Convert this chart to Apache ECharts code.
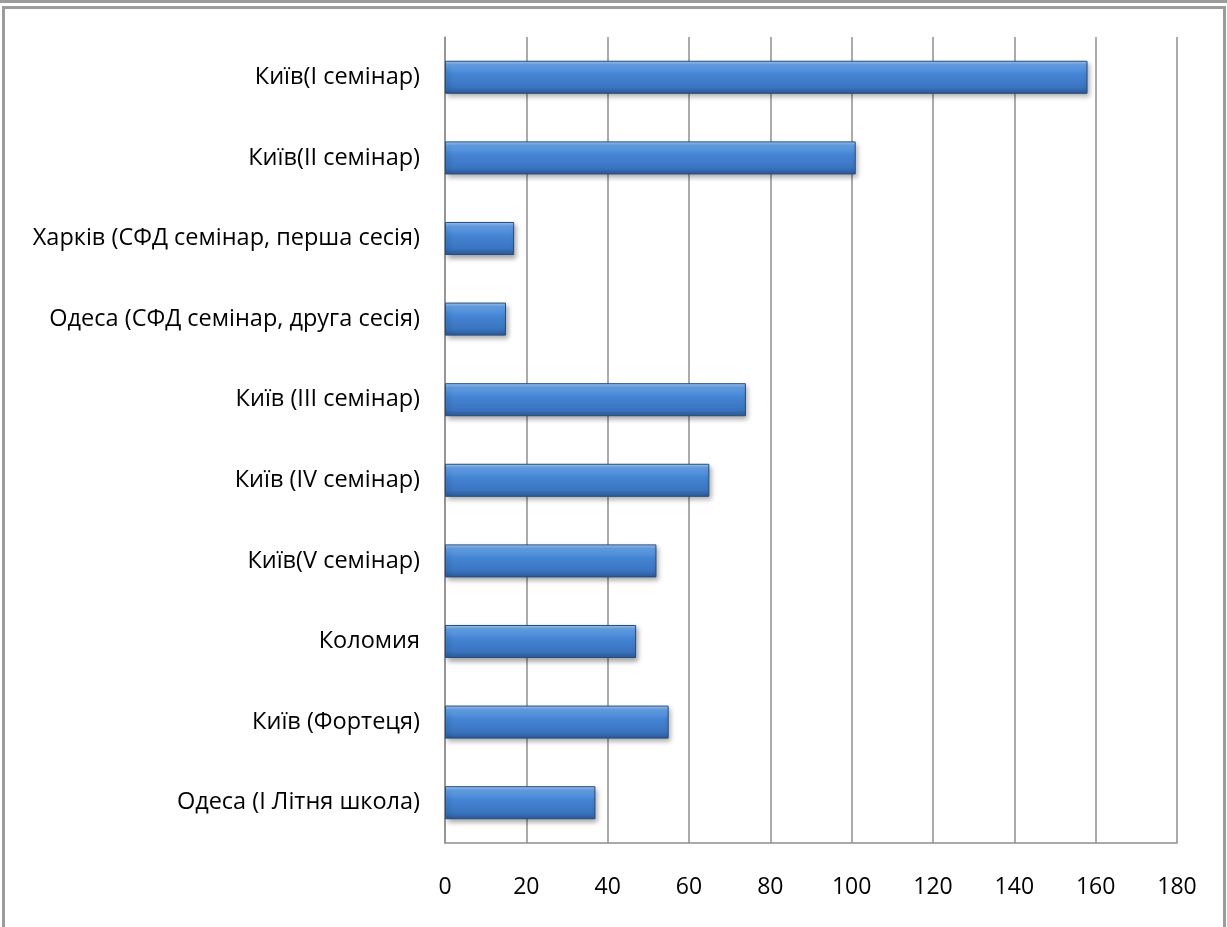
<!DOCTYPE html>
<html>
<head>
<meta charset="utf-8">
<script src="https://cdn.jsdelivr.net/npm/echarts@6/dist/echarts.min.js"></script>
<style>
    html, body { margin: 0; padding: 0; background: #fff; overflow: hidden; }
    #topLine { position: absolute; left: 0; top: 0; width: 1227px; height: 3px; background: #9c9c9c; }
    #frame { position: absolute; left: 2px; top: 6px; width: 1218px; height: 940px;
             border: 3px solid #9c9c9c; }
    #main { position: absolute; left: 0; top: 0; width: 1227px; height: 927px; }
</style>
</head>
<body>
<div id="topLine"></div>
<div id="frame"></div>
<div id="main"></div>
<script>
// категорії зверху вниз
let places = [
    'Київ(I семінар)',
    'Київ(II семінар)',
    'Харків (СФД семінар, перша сесія)',
    'Одеса (СФД семінар, друга сесія)',
    'Київ (III семінар)',
    'Київ (IV семінар)',
    'Київ(V семінар)',
    'Коломия',
    'Київ (Фортеця)',
    'Одеса (I Літня школа)'
];
let counts = [158, 101, 17, 15, 74, 65, 52, 47, 55, 37];
let xTicks = [0, 20, 40, 60, 80, 100, 120, 140, 160, 180];

var chart = echarts.init(document.getElementById('main'));

const fontFam = '"Open Sans", sans-serif';
const gridColor = '#8f8f8f';

option = {
    animation: false,
    grid: {
        left: 445,
        right: 50,
        top: 37,
        bottom: 84
    },
    xAxis: {
        type: 'value',
        min: xTicks[0],
        max: xTicks[xTicks.length - 1],
        interval: 20,
        axisLine: { show: true, lineStyle: { color: gridColor, width: 1.5 } },
        axisTick: { show: false },
        axisLabel: { color: '#000', fontSize: 23, fontFamily: fontFam, margin: 33 },
        splitLine: { show: true, lineStyle: { color: gridColor, width: 1.5 } }
    },
    yAxis: {
        type: 'category',
        data: places,
        inverse: true,
        axisLine: { show: true, lineStyle: { color: gridColor, width: 1.5 } },
        axisTick: { show: false },
        axisLabel: { color: '#000', fontSize: 23.5, fontFamily: fontFam, margin: 25 }
    },
    series: [
        {
            type: 'bar',
            data: counts,
            barCategoryGap: '59%',
            itemStyle: {
                color: new echarts.graphic.LinearGradient(0, 0, 0, 1, [
                    { offset: 0, color: '#a2cdf8' },
                    { offset: 0.12, color: '#66a2e8' },
                    { offset: 0.4, color: '#4585d4' },
                    { offset: 0.8, color: '#3a74c0' },
                    { offset: 1, color: '#2b5894' }
                ]),
                borderColor: '#2a4c7c',
                borderWidth: 1,
                shadowColor: 'rgba(0,0,0,0.35)',
                shadowBlur: 5,
                shadowOffsetX: 2,
                shadowOffsetY: 3
            }
        }
    ]
};

chart.setOption(option);
</script>
</body>
</html>
